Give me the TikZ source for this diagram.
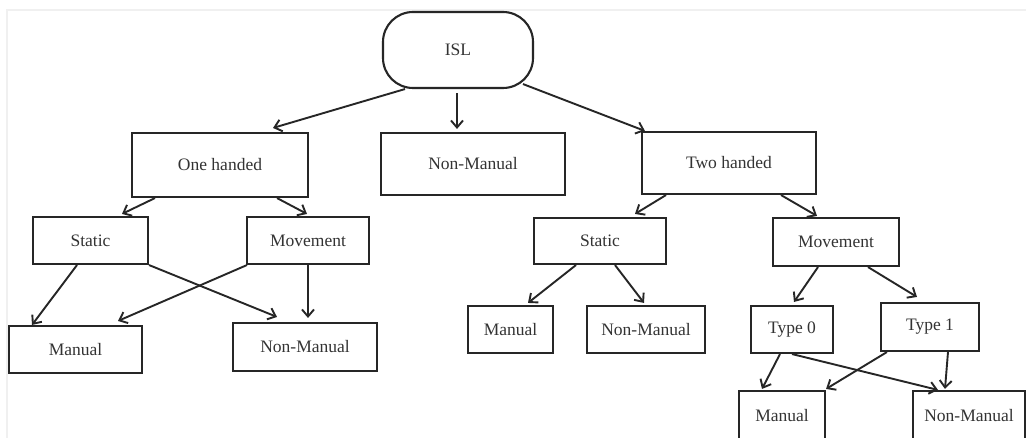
\documentclass[tikz,border=0pt]{standalone}
\usepackage{fontspec}
\setmainfont{Liberation Serif}
\usetikzlibrary{arrows.meta}
\begin{document}
\begin{tikzpicture}[x=1pt,y=-1pt,
  box/.style={draw=black!85,line width=2.1pt,rectangle,inner sep=0pt,text=black!80,
    font=\fontsize{17.5}{20}\selectfont},
  conn/.style={draw=black!85,line width=1.9pt,-{Straight Barb[length=7pt,width=12pt]}}]
\useasboundingbox (0,0) rectangle (1026,438);
\clip (0,0) rectangle (1026,438);
\fill[white] (0,0) rectangle (1026,438);
\draw[black!6,line width=2.5pt] (7,438) -- (7,10) -- (1026,10);
% nodes
\node[box,rounded corners=30pt,minimum width=150pt,minimum height=76pt] (isl) at (458,50) {ISL};
\node[box,minimum width=176pt,minimum height=64pt] (oh) at (220,165) {One handed};
\node[box,minimum width=184pt,minimum height=62pt] (nmt) at (473,164) {Non-Manual};
\node[box,minimum width=174pt,minimum height=62pt] (th) at (729,163) {Two handed};
\node[box,minimum width=115pt,minimum height=47pt] (sl) at (90.5,240.5) {Static};
\node[box,minimum width=122pt,minimum height=47pt] (ml) at (308,240.5) {Movement};
\node[box,minimum width=133pt,minimum height=47pt] (manl) at (75.5,349.5) {Manual};
\node[box,minimum width=144pt,minimum height=48pt] (nml) at (305,347) {Non-Manual};
\node[box,minimum width=132pt,minimum height=46pt] (sr) at (600,241) {Static};
\node[box,minimum width=126pt,minimum height=48pt] (mr) at (836,242) {Movement};
\node[box,minimum width=85pt,minimum height=47pt] (manr) at (510.5,329.5) {Manual};
\node[box,minimum width=118pt,minimum height=47pt] (nmr) at (646,329.5) {Non-Manual};
\node[box,minimum width=82pt,minimum height=47pt] (t0) at (792,329.5) {Type 0};
\node[box,minimum width=98pt,minimum height=48pt] (t1) at (930,327) {Type 1};
\node[box,minimum width=86pt,minimum height=50pt] (manb) at (782,416) {Manual};
\node[box,minimum width=112pt,minimum height=50pt] (nmb) at (969,416) {Non-Manual};
% connectors
\draw[conn] ([xshift=-53pt]isl.south) -- ([xshift=53pt,yshift=4pt]oh.north);
\draw[conn] ([xshift=-1pt,yshift=-4pt]isl.south) -- ([xshift=-16pt,yshift=3pt]nmt.north);
\draw[conn] ([xshift=65pt,yshift=5pt]isl.south) -- ([xshift=4pt,yshift=0pt]th.north west);
\draw[conn] ([xshift=-65pt]oh.south) -- ([xshift=31.5pt,yshift=2pt]sl.north);
\draw[conn] ([xshift=57pt]oh.south) -- ([xshift=-1pt,yshift=2pt]ml.north);
\draw[conn] ([xshift=-13.5pt]sl.south) -- ([xshift=-43.5pt]manl.north);
\draw[conn] (sl.south east) -- ([xshift=-28pt,yshift=5pt]nml.north);
\draw[conn] ([xshift=1pt]ml.south west) -- ([xshift=42.5pt,yshift=4pt]manl.north);
\draw[conn] (ml.south) -- ([xshift=3pt,yshift=4pt]nml.north);
\draw[conn] ([xshift=-63pt]th.south) -- ([xshift=35pt,yshift=3pt]sr.north);
\draw[conn] ([xshift=52pt]th.south) -- ([xshift=-19pt,yshift=1pt]mr.north);
\draw[conn] ([xshift=-24pt]sr.south) -- ([xshift=17.5pt,yshift=2pt]manr.north);
\draw[conn] ([xshift=15pt]sr.south) -- ([xshift=-2pt,yshift=2pt]nmr.north);
\draw[conn] ([xshift=-18pt]mr.south) -- ([xshift=2pt,yshift=3pt]t0.north);
\draw[conn] ([xshift=32pt]mr.south) -- ([xshift=-13pt,yshift=5pt]t1.north);
\draw[conn] ([xshift=-12pt]t0.south) -- ([xshift=-20pt,yshift=1pt]manb.north);
\draw[conn] (t0.south) -- ([xshift=-31pt]nmb.north);
\draw[conn] ([xshift=7pt]t1.south west) -- ([yshift=1pt]manb.north east);
\draw[conn] ([xshift=18pt]t1.south) -- ([xshift=-24pt,yshift=1pt]nmb.north);
\end{tikzpicture}
\end{document}
